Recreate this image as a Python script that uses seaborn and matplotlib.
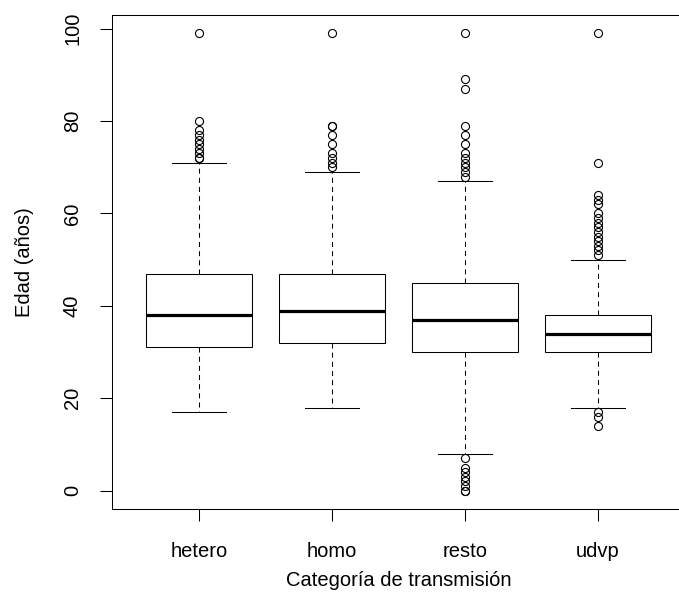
import matplotlib
matplotlib.use("Agg")
import matplotlib.pyplot as plt
import seaborn as sns
import pandas as pd

# Transmission categories
categorias = ["hetero", "homo", "resto", "udvp"]

# Five-number summaries per category (years)
bigote_inf = [17, 18, 8, 18]
q1 = [31, 32, 30, 30]
mediana = [38, 39, 37, 34]
q3 = [47, 47, 45, 38]
bigote_sup = [71, 69, 67, 50]

# Atypical ages beyond the whiskers
atipicos_sup = [
    [72, 72, 73, 74, 75, 76, 77, 78, 80, 99],
    [70, 71, 72, 73, 75, 77, 79, 79, 99],
    [68, 69, 70, 71, 72, 73, 75, 77, 79, 87, 89, 99],
    [51, 52, 53, 54, 55, 56, 57, 58, 59, 60, 62, 63, 64, 71, 99],
]
atipicos_inf = [
    [],
    [],
    [7, 5, 4, 3, 2, 1, 0, 0],
    [17, 16, 14],
]

# Build a long table whose quartiles, whiskers and outliers reproduce the summaries
PESO = 40
filas = []
for i, cat in enumerate(categorias):
    valores = (list(atipicos_inf[i]) + [bigote_inf[i]]
               + [q1[i]] * PESO + [mediana[i]] * PESO + [q3[i]] * PESO
               + [bigote_sup[i]] + list(atipicos_sup[i]))
    filas += [(cat, v) for v in valores]
df = pd.DataFrame(filas, columns=["categoria", "edad"])

plt.rcParams["font.family"] = ["Liberation Sans", "DejaVu Sans"]
plt.rcParams["lines.scale_dashes"] = False

W, H = 679, 615
fig = plt.figure(figsize=(W / 100, H / 100), dpi=100)
left, right, top, bottom = 112, 685, 15, 509
ax = fig.add_axes([left / W, 1 - bottom / H, (right - left) / W, (bottom - top) / H])

sns.boxplot(
    data=df, x="categoria", y="edad", order=categorias, ax=ax,
    color="white", linecolor="black", linewidth=0.75, width=0.8,
    whis=1.5, fliersize=5.8,
    flierprops=dict(marker="o", markerfacecolor="none", markeredgecolor="black",
                    markeredgewidth=0.8),
    whiskerprops=dict(linestyle=(0, (3.6, 3.0)), linewidth=0.75, color="black"),
    capprops=dict(linewidth=0.75, color="black"),
    medianprops=dict(linewidth=2.3, color="black"),
    boxprops=dict(edgecolor="black", linewidth=0.75),
    capwidths=0.4,
)

ax.set_xlim(-0.654, 3.654)
ax.set_ylim(-3.96, 102.96)
ax.set_yticks([0, 20, 40, 60, 80, 100])
ax.set_yticklabels(["0", "20", "40", "60", "80", "100"], rotation=90, va="center")
for s in ax.spines.values():
    s.set_color("black")
    s.set_linewidth(0.75)
ax.tick_params(axis="both", length=8.6, width=0.75, color="black",
               labelsize=14.5, labelcolor="black")
ax.tick_params(axis="y", pad=13)
ax.tick_params(axis="x", pad=15)
ax.set_xlabel("Categoría de transmisión", fontsize=14.5, labelpad=7)
ax.set_ylabel("Edad (años)", fontsize=14.5, labelpad=21)

fig.savefig("out.png", dpi=100, facecolor="white")
